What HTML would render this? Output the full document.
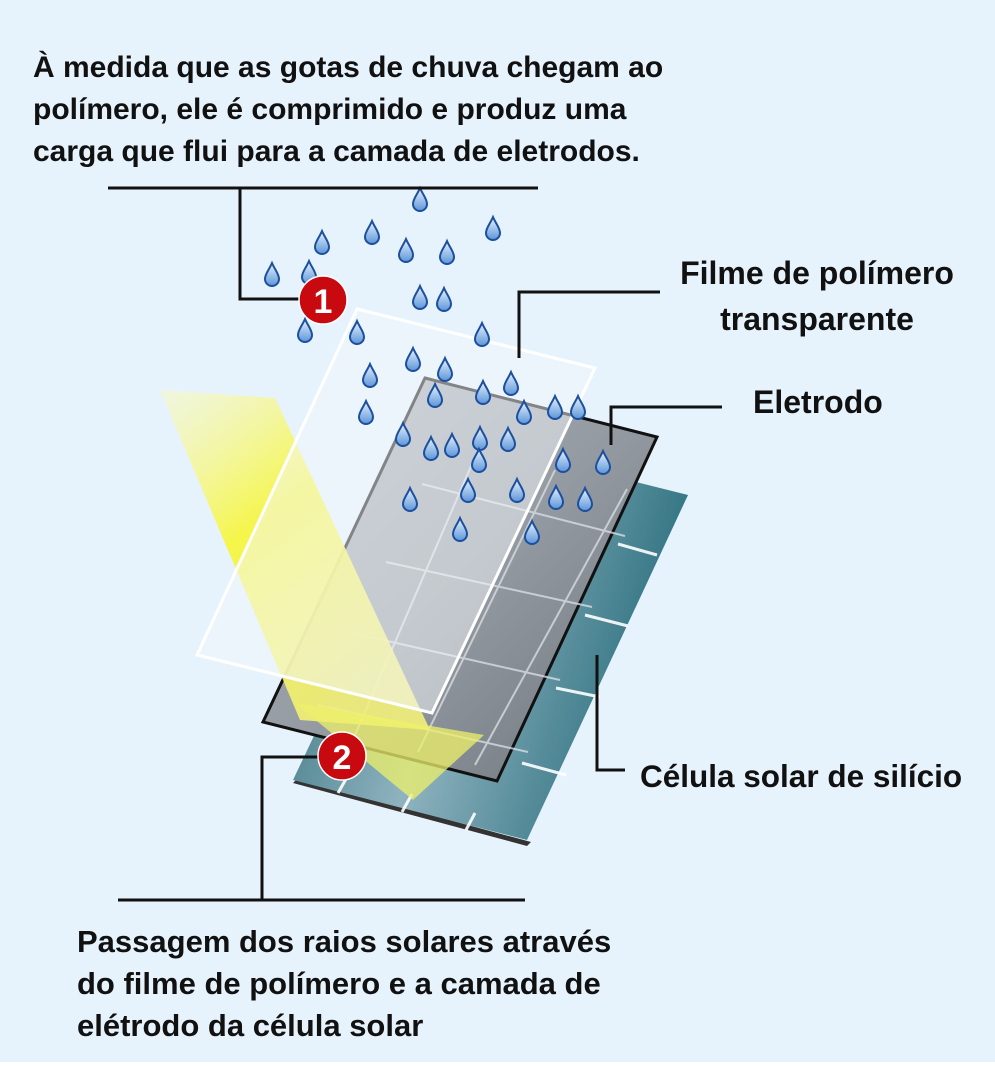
<!DOCTYPE html>
<html><head><meta charset="utf-8"><style>
html,body{margin:0;padding:0;background:#fff}
#c{position:relative;width:995px;height:1078px;background:#e7f3fc;overflow:hidden;font-family:"Liberation Sans","DejaVu Sans",sans-serif;font-weight:bold;color:#111}
.t{position:absolute;line-height:42px;white-space:nowrap}
</style></head><body><div id="c">
<svg width="995" height="1078" style="position:absolute;left:0;top:0">
<defs>
<linearGradient id="teal" x1="0" y1="0" x2="1" y2="0.3">
<stop offset="0" stop-color="#2d6c78"/><stop offset="0.5" stop-color="#8fb3bf"/><stop offset="1" stop-color="#2f7281"/></linearGradient>
<linearGradient id="el" x1="0" y1="0" x2="1" y2="1">
<stop offset="0" stop-color="#a9b0b8"/><stop offset="0.5" stop-color="#959ba2"/><stop offset="1" stop-color="#6e747b"/></linearGradient>
<linearGradient id="beam" x1="0" y1="0" x2="0.6" y2="1">
<stop offset="0" stop-color="#fbfbb5" stop-opacity="0.4"/><stop offset="0.45" stop-color="#f6f540" stop-opacity="0.95"/><stop offset="1" stop-color="#f2f07a" stop-opacity="0.9"/></linearGradient>
<linearGradient id="drop" x1="0" y1="0" x2="0" y2="1">
<stop offset="0" stop-color="#e8f3ff"/><stop offset="1" stop-color="#5d95d8"/></linearGradient>
<g id="d"><path d="M0,-11 C3,-4 7,0 7,5 A7,7 0 0 1 -7,5 C-7,0 -3,-4 0,-11Z" fill="url(#drop)" stroke="#1c4f9e" stroke-width="2"/></g>
</defs>
<polygon points="293,783 527,846 531,842 297,779" fill="#333"/>
<polygon points="456,437 688,495 527,840 293,780" fill="url(#teal)"/>
<g stroke="#fff" stroke-width="3" opacity="0.9">
<line x1="618" y1="544" x2="657" y2="555"/><line x1="585" y1="615" x2="628" y2="626"/><line x1="556" y1="688" x2="600" y2="697"/><line x1="522" y1="763" x2="566" y2="775"/>
<line x1="346" y1="779" x2="338" y2="793"/><line x1="412" y1="794" x2="402" y2="812"/><line x1="475" y1="813" x2="466" y2="830"/>
</g>
<polygon points="425,378 657,437 497,781 263,722" fill="url(#el)" stroke="#111" stroke-width="3"/>
<g stroke="#d8dde2" stroke-width="2" opacity="0.8">
<line x1="422" y1="484" x2="625" y2="536"/><line x1="386" y1="562" x2="592" y2="607"/><line x1="352" y1="633" x2="560" y2="680"/><line x1="318" y1="705" x2="528" y2="752"/>
<line x1="478" y1="450" x2="355" y2="735"/><line x1="555" y1="470" x2="418" y2="752"/><line x1="627" y1="489" x2="475" y2="765"/>
</g>
<polygon points="160,390 275,398 430,730 300,720" fill="url(#beam)"/>
<polygon points="295,703 484,735 413,800" fill="#eef06a" opacity="0.75"/>
<polygon points="357,309 595,368 432,713 197,655" fill="#f4f8fb" fill-opacity="0.5" stroke="#fff" stroke-width="3"/>
<g>
<use href="#d" x="420" y="199"/><use href="#d" x="372" y="232"/><use href="#d" x="493" y="228"/><use href="#d" x="322" y="242"/><use href="#d" x="406" y="250"/><use href="#d" x="447" y="252"/><use href="#d" x="272" y="274"/><use href="#d" x="309" y="272"/><use href="#d" x="420" y="297"/><use href="#d" x="444" y="299"/><use href="#d" x="305" y="330"/><use href="#d" x="357" y="332"/><use href="#d" x="482" y="334"/><use href="#d" x="370" y="375"/><use href="#d" x="413" y="359"/><use href="#d" x="445" y="369"/><use href="#d" x="511" y="383"/><use href="#d" x="435" y="395"/><use href="#d" x="483" y="392"/><use href="#d" x="366" y="412"/><use href="#d" x="524" y="412"/><use href="#d" x="555" y="407"/><use href="#d" x="578" y="407"/><use href="#d" x="403" y="434"/><use href="#d" x="431" y="448"/><use href="#d" x="452" y="445"/><use href="#d" x="480" y="438"/><use href="#d" x="508" y="439"/><use href="#d" x="479" y="460"/><use href="#d" x="563" y="460"/><use href="#d" x="603" y="462"/><use href="#d" x="410" y="499"/><use href="#d" x="468" y="490"/><use href="#d" x="517" y="490"/><use href="#d" x="556" y="497"/><use href="#d" x="585" y="499"/><use href="#d" x="460" y="529"/><use href="#d" x="532" y="532"/>
</g>
<g stroke="#111" stroke-width="3" fill="none">
<line x1="108" y1="188" x2="538" y2="188"/>
<polyline points="240,188 240,299 300,299"/>
<polyline points="519,358 519,292 660,292"/>
<polyline points="611,445 611,407 722,407"/>
<polyline points="597,655 597,770 625,770"/>
<polyline points="322,757 262,757 262,900"/>
<line x1="118" y1="900" x2="525" y2="900"/>
</g>
<circle cx="323" cy="300" r="24" fill="#c8090f" stroke="#fff" stroke-width="1.5"/>
<text x="323" y="313" text-anchor="middle" font-family="Liberation Sans" font-weight="bold" font-size="34" fill="#fff">1</text>
<circle cx="342" cy="756" r="24" fill="#c8090f" stroke="#fff" stroke-width="1.5"/>
<text x="342" y="769" text-anchor="middle" font-family="Liberation Sans" font-weight="bold" font-size="34" fill="#fff">2</text>
</svg>
<div class="t" style="left:33px;top:47px;font-size:30px">À medida que as gotas de chuva chegam ao<br>polímero, ele é comprimido e produz uma<br>carga que flui para a camada de eletrodos.</div>
<div class="t" style="left:667px;top:250px;width:300px;text-align:center;font-size:32px;line-height:46px">Filme de polímero<br>transparente</div>
<div class="t" style="left:753px;top:381px;font-size:32px">Eletrodo</div>
<div class="t" style="left:640px;top:755px;font-size:31.5px">Célula solar de silício</div>
<div class="t" style="left:77px;top:921px;font-size:31px">Passagem dos raios solares através<br>do filme de polímero e a camada de<br>elétrodo da célula solar</div>
<div style="position:absolute;left:0;top:1062px;width:995px;height:16px;background:#fff"></div>
</div></body></html>
